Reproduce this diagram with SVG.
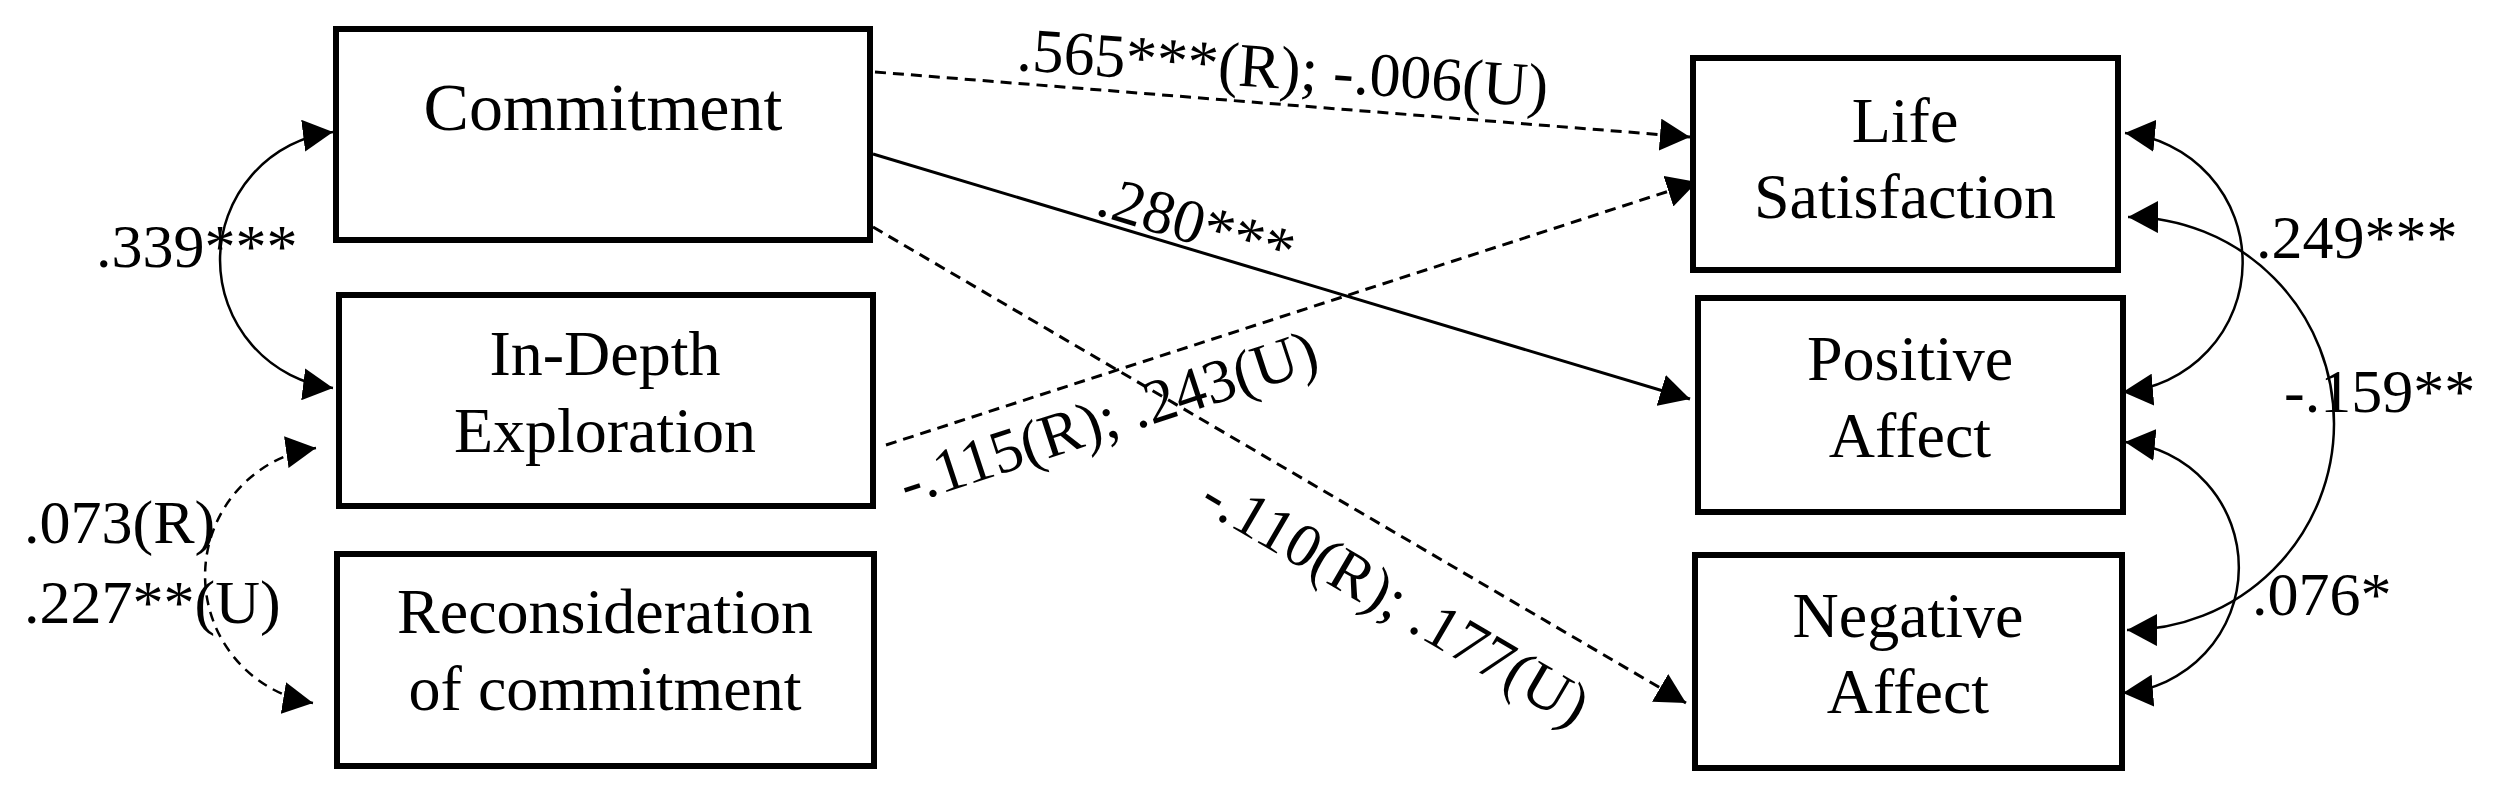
<svg xmlns="http://www.w3.org/2000/svg" width="2500" height="797" viewBox="0 0 2500 797">
<style>
.box{fill:#fff;stroke:#000;stroke-width:6}
.nt{font-family:"Liberation Serif","Times New Roman",serif;font-size:64px;fill:#000;text-anchor:middle}
.lb{font-family:"Liberation Serif","Times New Roman",serif;font-size:62px;fill:#000}
.solid{fill:none;stroke:#000;stroke-width:3}
.dash{fill:none;stroke:#000;stroke-width:3;stroke-dasharray:11 7}
.curve{fill:none;stroke:#000;stroke-width:2.5}
.dcurve{fill:none;stroke:#000;stroke-width:2.5;stroke-dasharray:10 7}
</style>
<defs>
<marker id="ah" markerUnits="userSpaceOnUse" viewBox="0 0 30 32" refX="30" refY="16" markerWidth="30" markerHeight="32" orient="auto-start-reverse">
<path d="M0,0 L30,16 L0,32 z" fill="#000"/>
</marker>
</defs>
<rect width="2500" height="797" fill="#fff"/>
<g id="connectors">
<path class="dash" d="M875,72 L1690,137" marker-end="url(#ah)"/>
<path class="solid" d="M873,154 L1690,399" marker-end="url(#ah)"/>
<path class="dash" d="M873,227 L1686,703" marker-end="url(#ah)"/>
<path class="dash" d="M886,445 L1697,182" marker-end="url(#ah)"/>
<path class="curve" d="M333,132 A129,129 0 0 0 333,388" marker-start="url(#ah)" marker-end="url(#ah)"/>
<path class="dcurve" d="M316,448 A129,129 0 0 0 313,703" marker-start="url(#ah)" marker-end="url(#ah)"/>
<path class="curve" d="M2125,133 A130,130 0 0 1 2123,392" marker-start="url(#ah)" marker-end="url(#ah)"/>
<path class="curve" d="M2128,217 A206,206 0 0 1 2127,630" marker-start="url(#ah)" marker-end="url(#ah)"/>
<path class="curve" d="M2125,442 A126,126 0 0 1 2123,693" marker-start="url(#ah)" marker-end="url(#ah)"/>
<text class="lb" x="96" y="267">.339***</text>
<text class="lb" x="24" y="543">.073(R)</text>
<text class="lb" x="24" y="623">.227**(U)</text>
<text class="lb" transform="translate(1016,70) rotate(4)">.565***(R); -.006(U)</text>
<text class="lb" transform="translate(1094,214) rotate(16.8)">.280***</text>
<text class="lb" transform="translate(907,505) rotate(-18.2)">-.115(R); .243(U)</text>
<text class="lb" transform="translate(1197,507) rotate(30.4)">-.110(R); .177(U)</text>
<text class="lb" x="2256" y="258">.249***</text>
<text class="lb" x="2284" y="412">-.159**</text>
<text class="lb" x="2252" y="615">.076*</text>
</g>
<g id="commitment">
<rect class="box" x="336" y="29" width="534" height="211"/>
<text class="nt" x="603" y="130" style="font-size:68px">Commitment</text>
</g>
<g id="in-depth-exploration">
<rect class="box" x="339" y="295" width="534" height="211"/>
<text class="nt" x="605" y="375">In-Depth</text>
<text class="nt" x="605" y="452">Exploration</text>
</g>
<g id="reconsideration">
<rect class="box" x="337" y="554" width="537" height="212"/>
<text class="nt" x="605" y="633">Reconsideration</text>
<text class="nt" x="605" y="710">of commitment</text>
</g>
<g id="life-satisfaction">
<rect class="box" x="1693" y="58" width="425" height="212"/>
<text class="nt" x="1905" y="142">Life</text>
<text class="nt" x="1905" y="218">Satisfaction</text>
</g>
<g id="positive-affect">
<rect class="box" x="1698" y="298" width="425" height="214"/>
<text class="nt" x="1910" y="380">Positive</text>
<text class="nt" x="1910" y="457">Affect</text>
</g>
<g id="negative-affect">
<rect class="box" x="1695" y="555" width="427" height="213"/>
<text class="nt" x="1908" y="637">Negative</text>
<text class="nt" x="1908" y="713">Affect</text>
</g>
</svg>
